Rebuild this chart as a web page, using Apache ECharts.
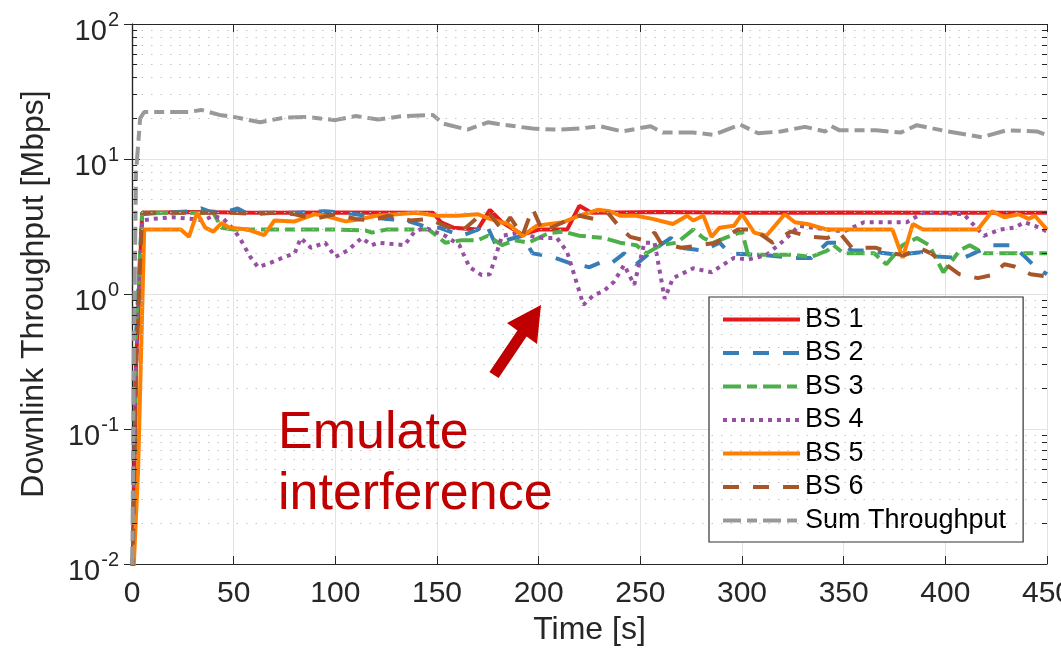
<!DOCTYPE html>
<html>
<head>
<meta charset="utf-8">
<script src="https://cdn.jsdelivr.net/npm/echarts@6/dist/echarts.min.js"></script>
<style>html,body{margin:0;background:#fff}#chart{width:1061px;height:650px}</style>
</head>
<body>
<div id="chart"></div>
<script>
var FONT = "'Liberation Sans', Arial, Helvetica, sans-serif";

var seriesNames = ['BS 1', 'BS 2', 'BS 3', 'BS 4', 'BS 5', 'BS 6', 'Sum Throughput'];

var bs1 = [[0,0.005],[2,0.3],[5,4.0],[30,4.05],[60,4.0],[100,4.02],[148,4.0],[152,3.4],[158,3.1],[170,3.0],[176,4.2],[182,3.4],[192,2.75],[200,3.0],[214,3.0],[220,4.5],[226,4.0],[260,4.05],[300,4.0],[350,4.02],[400,4.0],[450,4.0]];

var bs2 = [[0,0.005],[2,0.5],[5,3.9],[15,4.0],[30,4.1],[34,4.3],[38,4.1],[45,4.0],[52,4.3],[56,4.0],[80,4.0],[95,4.1],[105,4.0],[115,3.8],[125,3.6],[135,3.5],[146,3.1],[151,3.1],[162,2.7],[170,3.0],[174,3.35],[179,2.3],[184,2.5],[192,2.7],[197,2.0],[207,1.88],[215,1.7],[225,1.58],[232,1.75],[236,1.7],[242,2.0],[248,1.66],[256,2.1],[265,2.6],[270,2.2],[281,2.1],[289,2.4],[294,2.0],[310,1.95],[325,1.85],[334,1.85],[342,2.4],[348,2.4],[354,2.1],[360,2.1],[377,1.95],[389,2.05],[393,1.9],[409,1.85],[423,2.3],[433,2.3],[439,1.9],[444,1.6],[450,1.4]];

var bs3 = [[0,0.005],[2,0.5],[5,4.0],[20,4.0],[40,4.0],[44,3.1],[50,3.0],[80,3.0],[100,3.0],[115,2.95],[118,2.85],[125,3.0],[146,3.0],[154,2.4],[162,2.5],[170,2.5],[175,2.7],[182,2.3],[188,2.5],[195,2.4],[205,2.83],[212,2.9],[220,2.7],[232,2.6],[240,2.4],[248,2.3],[253,2.0],[260,2.3],[268,2.4],[276,3.0],[281,2.6],[286,2.4],[293,2.65],[300,2.9],[303,1.95],[315,1.95],[325,1.95],[334,1.88],[342,2.1],[345,2.3],[350,2.0],[365,2.0],[371,1.66],[379,2.3],[386,2.6],[392,2.3],[399,1.45],[407,2.1],[412,2.3],[419,2.0],[435,2.0],[450,2.0]];

var bs4 = [[0,0.005],[2,0.3],[5,3.5],[10,3.6],[20,3.7],[30,3.6],[35,3.5],[40,3.8],[45,3.6],[50,3.0],[53,2.6],[58,1.9],[62,1.58],[68,1.7],[75,1.88],[80,2.0],[83,2.6],[88,2.2],[95,2.4],[100,1.88],[106,2.1],[113,2.6],[118,2.3],[121,2.4],[134,2.3],[139,2.9],[144,3.1],[154,2.7],[161,2.3],[166,1.58],[172,1.38],[176,1.4],[179,1.94],[182,2.7],[188,2.8],[202,2.6],[209,2.6],[214,2.05],[219,1.17],[222,0.83],[227,0.98],[232,1.05],[237,1.23],[242,1.64],[247,1.17],[252,2.4],[257,2.4],[262,0.92],[266,1.31],[276,1.55],[285,1.45],[296,1.85],[303,1.8],[312,1.94],[322,2.6],[328,3.2],[342,3.0],[350,2.9],[360,3.4],[381,3.4],[389,4.0],[394,4.0],[409,3.9],[419,2.7],[427,3.0],[434,3.1],[439,3.4],[444,3.2],[450,2.9]];

var bs5 = [[0,0.005],[3,0.05],[6,3.0],[15,3.0],[24,3.0],[28,2.65],[32,4.0],[36,3.1],[40,2.9],[44,3.35],[48,3.1],[57,3.0],[65,2.73],[70,3.5],[80,3.45],[90,3.9],[95,3.8],[105,3.45],[113,3.6],[120,3.8],[130,3.9],[140,4.0],[150,3.8],[160,3.8],[170,3.9],[176,3.6],[185,3.3],[192,2.7],[199,3.2],[212,3.4],[220,3.8],[229,4.2],[235,4.1],[240,3.8],[248,3.8],[256,3.6],[266,3.3],[273,3.8],[276,3.5],[281,3.8],[285,2.65],[289,3.1],[296,3.2],[300,3.9],[306,2.85],[312,2.7],[321,3.9],[326,3.4],[332,3.3],[342,3.0],[360,3.0],[374,3.0],[379,1.85],[384,3.3],[389,3.0],[416,3.0],[423,4.1],[429,3.7],[436,3.9],[441,3.6],[444,3.8],[450,3.0]];

var bs6 = [[0,0.005],[2,0.3],[5,4.0],[30,4.0],[50,4.0],[60,3.9],[70,4.0],[80,3.9],[90,3.6],[100,3.9],[110,3.6],[118,3.5],[126,3.8],[137,3.5],[146,3.6],[154,3.2],[162,2.9],[170,3.7],[176,3.9],[182,3.0],[186,3.7],[192,2.7],[197,4.3],[202,2.9],[212,3.4],[220,3.8],[227,3.6],[234,4.0],[240,3.1],[245,2.65],[252,2.5],[257,2.85],[260,2.4],[270,2.2],[276,2.25],[287,2.4],[298,3.0],[306,3.0],[315,2.4],[324,2.9],[334,2.65],[342,2.6],[348,2.85],[354,2.2],[366,2.2],[374,2.0],[380,1.94],[387,2.2],[393,2.0],[400,1.66],[407,1.4],[416,1.31],[423,1.38],[429,1.66],[434,1.6],[442,1.4],[450,1.35]];

var sumThroughput = [[0,0.005],[1,0.5],[2,8],[4,20],[6,22.3],[14,22.3],[28,22.3],[34,23.1],[43,21.2],[50,20.5],[63,18.7],[75,20.3],[86,20.5],[100,19.4],[110,20.8],[121,19.6],[133,20.8],[148,21.2],[153,18.3],[165,16.5],[175,18.7],[182,18.0],[197,16.8],[209,16.5],[220,16.8],[230,17.5],[241,16.0],[255,17.5],[261,15.7],[276,15.7],[286,15.1],[299,18.0],[308,15.5],[319,16.0],[331,17.3],[341,16.0],[344,17.5],[348,16.3],[366,16.3],[378,15.7],[386,17.8],[401,16.0],[418,14.5],[430,16.3],[445,16.0],[450,15.0]];

var colors = ['#e41a1c', '#377eb8', '#4daf4a', '#984ea3', '#ff7f00', '#a65628', '#999999'];
var dashes = ['solid', [16, 14], [18, 6, 10, 6], [4, 5], 'solid', [16, 14], [18, 6, 10, 6]];
var allData = [bs1, bs2, bs3, bs4, bs5, bs6, sumThroughput];

// minor log values 2..9 of each decade
var minorValues = [];
[0.01, 0.1, 1, 10].forEach(function (d) {
  for (var k = 2; k <= 9; k++) minorValues.push(+(d * k).toPrecision(3));
});

var series = allData.map(function (d, i) {
  return {
    name: seriesNames[i],
    type: 'line',
    data: d,
    symbol: 'none',
    clip: true,
    lineStyle: { color: colors[i], width: 4, type: dashes[i], cap: 'butt' },
    itemStyle: { color: colors[i] }
  };
});
// dotted minor grid
series[0].markLine = {
  silent: true, symbol: 'none', label: { show: false }, animation: false,
  lineStyle: { color: '#c4c4c4', width: 1, type: [1.5, 8] },
  data: minorValues.map(function (v) { return { yAxis: v }; })
};
// short minor ticks on left and right box edges
var tickMarks = [];
minorValues.forEach(function (v) {
  tickMarks.push([{ coord: [0, v] }, { coord: [2.5, v] }]);
  tickMarks.push([{ coord: [447.5, v] }, { coord: [450, v] }]);
});
series[1].markLine = {
  silent: true, symbol: 'none', label: { show: false }, animation: false,
  lineStyle: { color: '#262626', width: 1, type: 'solid' },
  data: tickMarks
};

function logLabel(v) {
  var e = Math.round(Math.log10(v));
  return '{b|10}{s|' + e + '}';
}

var chart = echarts.init(document.getElementById('chart'));
chart.setOption({
  animation: false,
  textStyle: { fontFamily: FONT },
  grid: { left: 132, right: 14, top: 24, bottom: 86, outerBoundsMode: 'none', containLabel: false },
  legend: {
    orient: 'vertical', left: 709, top: 297,
    padding: [9, 17, 8, 12],
    itemWidth: 77, itemHeight: 14, itemGap: 6.5,
    backgroundColor: '#fff', borderColor: '#333', borderWidth: 1.2,
    itemStyle: { opacity: 0 },
    lineStyle: { width: 4 },
    textStyle: { fontSize: 27, color: '#000', fontFamily: FONT },
    data: seriesNames
  },
  xAxis: [{
    type: 'value', min: 0, max: 450, interval: 50,
    name: 'Time [s]', nameLocation: 'middle', nameGap: 48,
    nameTextStyle: { fontSize: 32, color: '#262626' },
    axisLine: { lineStyle: { color: '#262626', width: 1.2 } },
    axisTick: { inside: true, length: 8, lineStyle: { color: '#262626' } },
    axisLabel: { fontSize: 30, color: '#262626', margin: 15 },
    splitLine: { lineStyle: { color: '#e3e3e3', width: 1 } }
  }, {
    type: 'value', min: 0, max: 450, interval: 50, position: 'top',
    axisLine: { show: true, lineStyle: { color: '#262626', width: 1.2 } },
    axisTick: { show: true, inside: true, length: 8, lineStyle: { color: '#262626' } },
    axisLabel: { show: false }, splitLine: { show: false }
  }],
  yAxis: [{
    type: 'log', logBase: 10, min: 0.01, max: 100,
    name: 'Downlink Throughput [Mbps]', nameLocation: 'middle', nameGap: 82,
    nameTextStyle: { fontSize: 32, color: '#262626' },
    axisLine: { show: true, lineStyle: { color: '#262626', width: 1.2 } },
    axisTick: { show: true, inside: true, length: 8, lineStyle: { color: '#262626' } },
    axisLabel: {
      margin: 13, color: '#262626', formatter: logLabel,
      rich: {
        b: { fontSize: 29, color: '#262626', padding: [16, 0, 0, 0] },
        s: { fontSize: 20, color: '#262626', verticalAlign: 'top', padding: [9, 0, 0, 1] }
      }
    },
    splitLine: { lineStyle: { color: '#e3e3e3', width: 1 } }
  }, {
    type: 'log', logBase: 10, min: 0.01, max: 100, position: 'right',
    axisLine: { show: true, lineStyle: { color: '#262626', width: 1.2 } },
    axisTick: { show: true, inside: true, length: 8, lineStyle: { color: '#262626' } },
    axisLabel: { show: false }, splitLine: { show: false }
  }],
  series: series,
  graphic: [{
    type: 'text', left: 278, top: 403, z: 100,
    style: { text: 'Emulate\ninterference', fontSize: 52, lineHeight: 61, fill: '#c00000', fontFamily: FONT }
  }, {
    type: 'polygon', z: 100,
    shape: { points: [[541,305],[537,344],[526.6,336.6],[498.6,378.1],[489.4,371.9],[517.4,330.4],[507,323]] },
    style: { fill: '#c00000' }
  }]
});
</script>
</body>
</html>
